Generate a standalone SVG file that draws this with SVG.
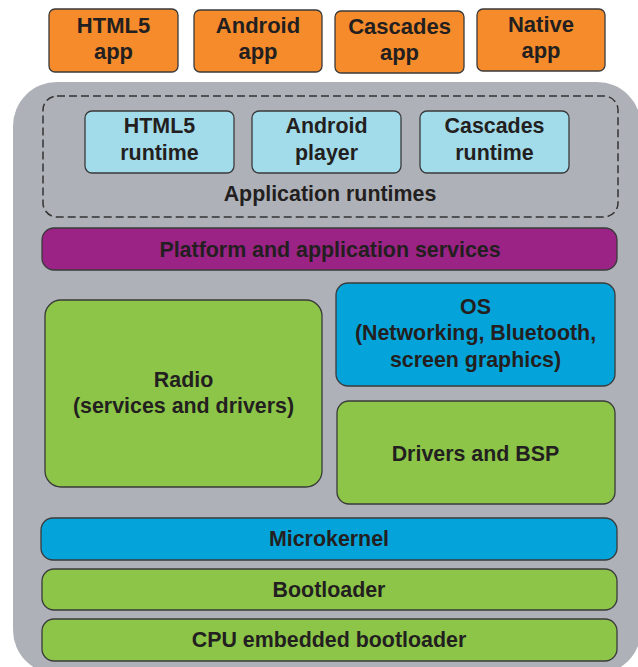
<svg xmlns="http://www.w3.org/2000/svg" width="638" height="667" viewBox="0 0 638 667">
<style>
.t{font-family:"Liberation Sans",Arial,sans-serif;font-weight:bold;fill:#231f20;text-anchor:middle;font-size:21.4px}
.a{font-size:22px}
.box{stroke:#3a3a3a;stroke-width:1.3}
.app{fill:#f58b2a}
.rt{fill:#a2dbe9}
.pur{fill:#9b2386}
.grn{fill:#8cc548}
.blu{fill:#04a4da}
</style>
<rect width="638" height="667" fill="#ffffff"/>
<g id="platform-bg">
<rect x="13" y="82" width="628" height="592" rx="44" fill="#aeb2b8"/>
</g>
<g id="html5-app"><rect class="box app" x="49" y="9" width="129" height="63" rx="6"/><text class="t a" x="113.5" y="33">HTML5</text><text class="t a" x="113.5" y="59">app</text></g>
<g id="android-app"><rect class="box app" x="194" y="10" width="128" height="62" rx="6"/><text class="t a" x="258" y="33">Android</text><text class="t a" x="258" y="59">app</text></g>
<g id="cascades-app"><rect class="box app" x="335" y="11" width="129" height="62" rx="6"/><text class="t a" x="399.5" y="34">Cascades</text><text class="t a" x="399.5" y="60">app</text></g>
<g id="native-app"><rect class="box app" x="477" y="9" width="128" height="62" rx="6"/><text class="t a" x="541" y="32">Native</text><text class="t a" x="541" y="58">app</text></g>
<g id="application-runtimes">
<rect x="43" y="96" width="575" height="121" rx="14" fill="none" stroke="#333" stroke-width="1.5" stroke-dasharray="8 4"/>
<text class="t" x="330" y="201">Application runtimes</text>
</g>
<g id="html5-runtime"><rect class="box rt" x="85" y="111" width="149" height="62" rx="7"/><text class="t" x="159.5" y="133">HTML5</text><text class="t" x="159.5" y="160">runtime</text></g>
<g id="android-player"><rect class="box rt" x="252" y="111" width="149" height="62" rx="7"/><text class="t" x="326.5" y="133">Android</text><text class="t" x="326.5" y="160">player</text></g>
<g id="cascades-runtime"><rect class="box rt" x="420" y="111" width="149" height="62" rx="7"/><text class="t" x="494.5" y="133">Cascades</text><text class="t" x="494.5" y="160">runtime</text></g>
<g id="platform-services"><rect class="box pur" x="42" y="228" width="575" height="42" rx="12"/><text class="t" x="330" y="257">Platform and application services</text></g>
<g id="radio"><rect class="box grn" x="45" y="300" width="277" height="187" rx="16"/><text class="t" x="183.5" y="387">Radio</text><text class="t" x="183.5" y="413">(services and drivers)</text></g>
<g id="os"><rect class="box blu" x="336" y="283" width="279" height="103" rx="12"/><text class="t" x="475.5" y="314">OS</text><text class="t" x="475.5" y="340">(Networking, Bluetooth,</text><text class="t" x="475.5" y="367">screen graphics)</text></g>
<g id="drivers-bsp"><rect class="box grn" x="337" y="401" width="278" height="103" rx="12"/><text class="t" x="475.5" y="461">Drivers and BSP</text></g>
<g id="microkernel"><rect class="box blu" x="41" y="518" width="576" height="42" rx="12"/><text class="t" x="329" y="546">Microkernel</text></g>
<g id="bootloader"><rect class="box grn" x="42" y="569" width="575" height="41" rx="12"/><text class="t" x="329" y="597">Bootloader</text></g>
<g id="cpu-bootloader"><rect class="box grn" x="42" y="619" width="575" height="42" rx="12"/><text class="t" x="329" y="647">CPU embedded bootloader</text></g>
<g id="connectors"></g>
</svg>
